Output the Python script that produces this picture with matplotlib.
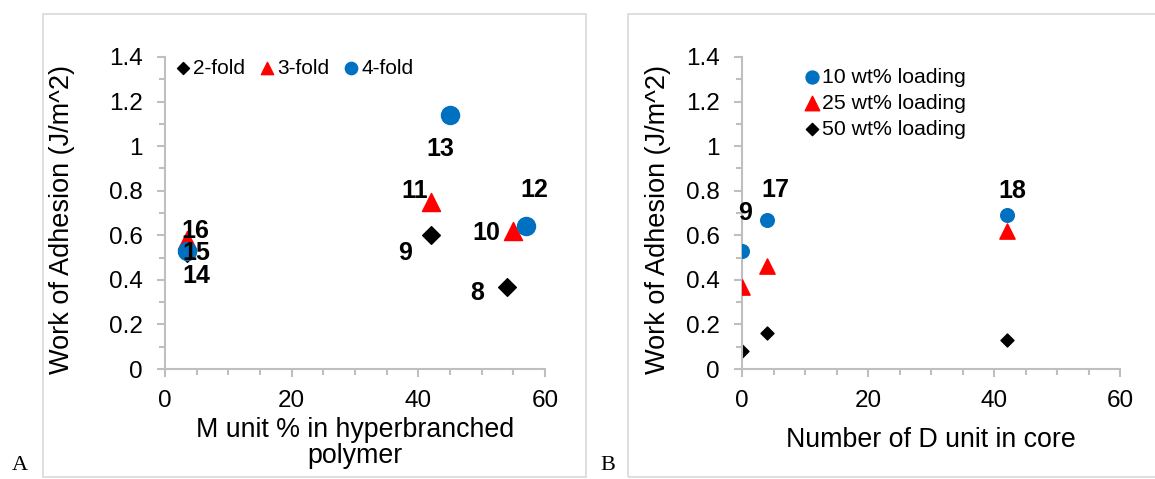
import matplotlib
matplotlib.use("Agg")
import matplotlib.pyplot as plt
from matplotlib.patches import Rectangle
from matplotlib.ticker import MultipleLocator, FuncFormatter

plt.rcParams['font.family'] = ['Liberation Sans', 'DejaVu Sans']

# ---- panel A data: M unit % vs work of adhesion ----
fold2_x = [54, 42, 3.4]
fold2_y = [0.37, 0.60, 0.52]
fold2_ids = ['8', '9', '14']
fold3_x = [55, 42, 3.4]
fold3_y = [0.62, 0.75, 0.58]
fold3_ids = ['10', '11', '16']
fold4_x = [57, 45, 3.4]
fold4_y = [0.64, 1.14, 0.53]
fold4_ids = ['12', '13', '15']

# ---- panel B data: number of D units in core ----
d_units = [0, 4, 42]
load10_y = [0.53, 0.67, 0.69]
load25_y = [0.37, 0.46, 0.62]
load50_y = [0.08, 0.16, 0.13]
load10_ids = ['9', '17', '18']

BLUE = '#0070C0'
RED = '#FF0000'
GRAY = '#BFBFBF'

W, H = 1155, 479
fig = plt.figure(figsize=(W / 100, H / 100), dpi=100)

# outer panel frames
fig.patches.append(Rectangle((43 / W, 2 / H), 543 / W, 463 / H, transform=fig.transFigure,
                             fill=False, edgecolor='#D9D9D9', lw=1.2))
fig.patches.append(Rectangle((628 / W, 2 / H), 540 / W, 463 / H, transform=fig.transFigure,
                             fill=False, edgecolor='#D9D9D9', lw=1.2))
fig.text(20 / W, 1 - 465 / H, 'A', family='Liberation Serif', fontsize=16, ha='center', va='center')
fig.text(608 / W, 1 - 465 / H, 'B', family='Liberation Serif', fontsize=16, ha='center', va='center')

axA = fig.add_axes([165 / W, 110 / H, 380 / W, 312 / H])
axB = fig.add_axes([742 / W, 110 / H, 378 / W, 312 / H])


def style(ax, ylab_x):
    ax.set_xlim(0, 60)
    ax.set_ylim(0, 1.4)
    ax.patch.set_alpha(0)
    for s in ['top', 'right']:
        ax.spines[s].set_visible(False)
    for s in ['left', 'bottom']:
        ax.spines[s].set_color(GRAY)
        ax.spines[s].set_linewidth(1.5)
    ax.xaxis.set_major_locator(MultipleLocator(20))
    ax.xaxis.set_minor_locator(MultipleLocator(5))
    ax.yaxis.set_major_locator(MultipleLocator(0.2))
    ax.yaxis.set_minor_locator(MultipleLocator(0.1))
    ax.yaxis.set_major_formatter(FuncFormatter(lambda v, p: '{:g}'.format(round(v, 1))))
    ax.tick_params(which='both', color=GRAY, width=1.5, labelsize=17.5)
    ax.tick_params(which='major', length=6)
    ax.tick_params(which='minor', length=4)
    ax.tick_params(axis='y', which='major', pad=10)
    ax.tick_params(axis='x', which='major', pad=9)
    ax.set_ylabel('Work of Adhesion (J/m^2)', fontsize=19.5, va='center')
    ax.yaxis.set_label_coords(ylab_x, 0.48)


def label(ax, txt, x, y, dx, dy):
    ax.annotate(txt, xy=(x, y), xytext=(dx * 0.72, dy * 0.72), textcoords='offset points',
                ha='center', va='center_baseline', fontsize=18, fontweight='bold', zorder=5)


# ---------- panel A ----------
style(axA, -0.271)
axA.scatter(fold2_x, fold2_y, marker='D', s=9.0 ** 2, color='black', label='2-fold', zorder=2)
axA.scatter(fold3_x, fold3_y, marker='^', s=13 ** 2, color=RED, label='3-fold', zorder=3)
axA.scatter(fold4_x, fold4_y, marker='o', s=13 ** 2, color=BLUE, label='4-fold', zorder=4)
axA.set_xlabel('M unit % in hyperbranched\npolymer', fontsize=19.3, va='center', linespacing=1.0)
axA.xaxis.set_label_coords(0.5, -0.237)

# offsets in pixels (screen up = positive)
offA = {'8': (-30, -4), '9': (-26, -15), '14': (10, -20),
        '10': (-27, 0), '11': (-16, 13), '16': (9, 11),
        '12': (8, 39), '13': (-10, -32), '15': (10, 0)}
for xs, ys, ids in [(fold2_x, fold2_y, fold2_ids), (fold3_x, fold3_y, fold3_ids),
                    (fold4_x, fold4_y, fold4_ids)]:
    for x, y, t in zip(xs, ys, ids):
        label(axA, t, x, y, *offA[t])

axA.legend(loc='center left', bbox_to_anchor=(0.0337, 0.9638), ncol=3, frameon=False,
           fontsize=15, markerscale=0.68, handlelength=0.5, handletextpad=0.23,
           columnspacing=0.81, borderpad=0, borderaxespad=0)

# ---------- panel B ----------
style(axB, -0.222)
axB.scatter(d_units, load10_y, marker='o', s=9.8 ** 2, color=BLUE, label='10 wt% loading', zorder=4)
axB.scatter(d_units, load25_y, marker='^', s=11 ** 2, color=RED, label='25 wt% loading', zorder=3)
axB.scatter(d_units, load50_y, marker='D', s=6.6 ** 2, color='black', label='50 wt% loading', zorder=2)
axB.set_xlabel('Number of D unit in core', fontsize=19.3, va='center')
axB.xaxis.set_label_coords(0.5, -0.2276)

offB = {'9': (3, 40), '17': (8, 32), '18': (6, 27)}
for x, y, t in zip(d_units, load10_y, load10_ids):
    label(axB, t, x, y, *offB[t])

axB.legend(loc='center left', bbox_to_anchor=(0.170, 0.8516), ncol=1, frameon=False,
           fontsize=15.3, markerscale=0.95, handlelength=0.5, handletextpad=0.24,
           labelspacing=0.34, borderpad=0, borderaxespad=0)

fig.savefig('out.png', dpi=100)
